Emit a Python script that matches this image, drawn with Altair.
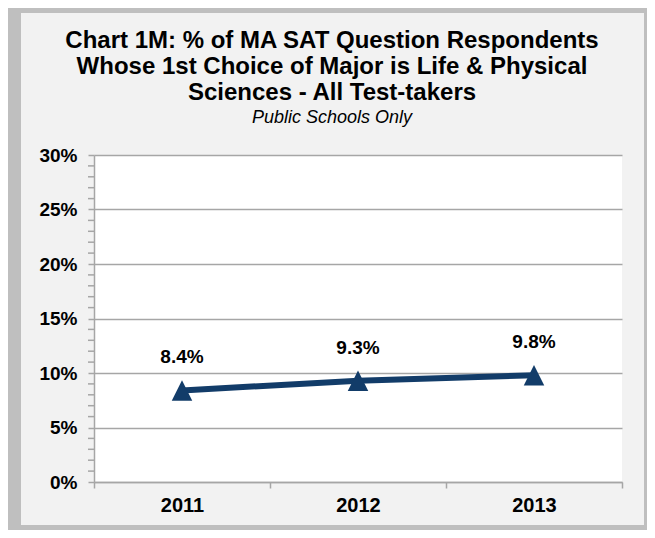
import altair as alt
import pandas as pd

years = ["2011", "2012", "2013"]
values = [0.084, 0.093, 0.098]
labels = ["8.4%", "9.3%", "9.8%"]
major_ticks = [0, 0.05, 0.10, 0.15, 0.20, 0.25, 0.30]
minor_ticks = [i / 100 for i in range(0, 31) if i % 5 != 0]

title_lines = [
    "Chart 1M: % of MA SAT Question Respondents",
    "Whose 1st Choice of Major is Life & Physical",
    "Sciences - All Test-takers",
]
subtitle = "Public Schools Only"

df = pd.DataFrame({"year": years, "value": values, "label": labels})
df_minor = pd.DataFrame({"v": minor_ticks})
df_one = pd.DataFrame({"a": [0]})

NAVY = "#123C69"
GRID = "#A6A6A6"
FONT = "Liberation Sans"

yscale = alt.Scale(domain=[0, 0.30], nice=False, zero=True)
xscale = alt.Scale(paddingInner=0, paddingOuter=0)

x_enc = alt.X(
    "year:O",
    scale=xscale,
    sort=years,
    axis=alt.Axis(
        title=None, labelAngle=0, tickBand="extent", grid=False,
        domainColor=GRID, domainWidth=1.5, tickColor=GRID, tickWidth=1.5, tickSize=6,
        labelFont=FONT, labelFontSize=20, labelFontWeight="bold", labelColor="black",
        labelPadding=7,
    ),
)
y_enc = alt.Y(
    "value:Q",
    scale=yscale,
    axis=alt.Axis(
        title=None, values=major_ticks, format=".0%", grid=True,
        gridColor=GRID, gridWidth=1.5, domainColor=GRID, domainWidth=1.5,
        tickColor=GRID, tickWidth=1.5, tickSize=6,
        labelFont=FONT, labelFontSize=19, labelFontWeight="bold", labelColor="black",
        labelPadding=11,
    ),
)

frame = alt.Chart(df_one).mark_rect(
    fillOpacity=0, stroke="#BFBFBF", strokeWidth=22
).encode(
    x=alt.value(-84), x2=alt.value(561), y=alt.value(-153), y2=alt.value(381)
)

minor = alt.Chart(df_minor).mark_rule(color=GRID, strokeWidth=1.5).encode(
    y=alt.Y("v:Q", scale=yscale), x=alt.value(-6), x2=alt.value(0)
)

line = alt.Chart(df).mark_line(color=NAVY, strokeWidth=6).encode(x=x_enc, y=y_enc)

points = alt.Chart(df).mark_point(
    shape="M0,-1L1,1L-1,1Z", filled=True, color=NAVY, opacity=1, size=420
).encode(x=alt.X("year:O", sort=years), y=alt.Y("value:Q"))

text = alt.Chart(df).mark_text(
    font=FONT, fontSize=19, fontWeight="bold", color="black", dy=-33, baseline="middle"
).encode(x=alt.X("year:O", sort=years), y=alt.Y("value:Q"), text="label:N")

title_layers = []
for i, ln in enumerate(title_lines):
    title_layers.append(
        alt.Chart(df_one).mark_text(
            font=FONT, fontSize=24, fontWeight="bold", color="black",
            align="center", baseline="alphabetic",
        ).encode(x=alt.value(238), y=alt.value(-107 + 26 * i), text=alt.value(ln))
    )
title_layers.append(
    alt.Chart(df_one).mark_text(
        font=FONT, fontSize=18, fontStyle="italic", color="black",
        align="center", baseline="alphabetic",
    ).encode(x=alt.value(238), y=alt.value(-32), text=alt.value(subtitle))
)

chart = alt.layer(frame, minor, line, points, text, *title_layers).properties(
    width=528,
    height=327,
    autosize=alt.AutoSizeParams(type="none"),
    padding={"left": 86, "top": 147, "right": 25, "bottom": 48},
).configure(background="#F2F2F2").configure_view(fill="white", stroke=None)

chart.save("out.html", embed_options={"renderer": "svg", "actions": False})
